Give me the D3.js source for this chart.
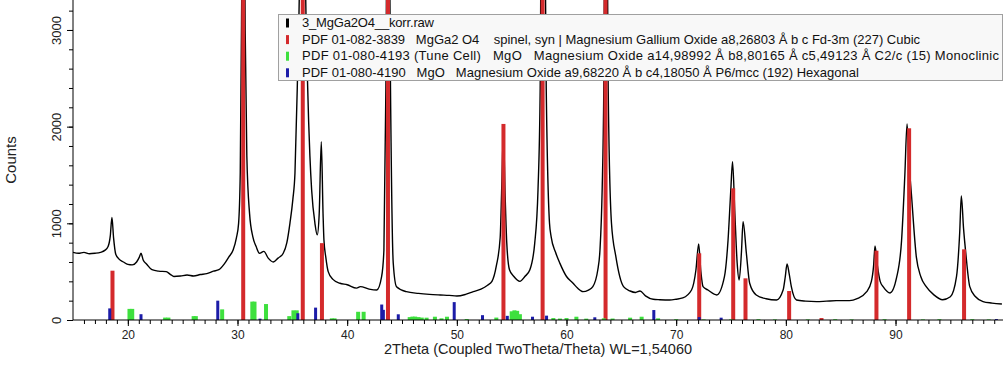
<!DOCTYPE html>
<html>
<head>
<meta charset="utf-8">
<script src="https://cdn.jsdelivr.net/npm/d3@7/dist/d3.min.js"></script>
<style>
  body { margin: 0; background: #fff; }
  svg { display: block; font-family: "Liberation Sans", Arial, sans-serif; }
</style>
</head>
<body>
<div id="chart"></div>
<script>
// measured scan, [2theta, counts]
const scan = [
  [15.0,700],[15.5,690],[16.0,700],[16.5,685],[17.0,690],[17.5,700],[17.9,720],[18.2,760],[18.4,870],[18.55,1060],
  [18.7,850],[18.9,680],[19.2,630],[19.6,600],[20.0,575],[20.4,570],[20.8,600],[21.05,650],[21.2,690],[21.4,620],
  [21.7,580],[22.2,520],[22.8,505],[23.5,500],[23.9,470],[24.2,450],[24.8,455],[25.4,465],[26.0,455],[26.6,470],
  [27.2,480],[27.8,505],[28.3,520],[28.8,580],[29.2,650],[29.6,724],[29.9,850],[30.1,1000],[30.25,1520],[30.38,3300],
  [30.52,6000],[30.7,3000],[30.85,1700],[31.1,1100],[31.4,860],[31.7,760],[32.0,690],[32.4,710],[32.8,640],[33.26,600],
  [33.7,640],[34.17,690],[34.5,800],[34.78,1000],[35.05,1250],[35.24,1520],[35.45,2400],[35.7,4000],[35.95,9000],[36.15,4000],
  [36.4,2400],[36.6,1700],[36.76,1345],[37.06,1000],[37.27,880],[37.45,1100],[37.64,1845],[37.8,1100],[37.88,830],[38.05,650],
  [38.27,500],[38.7,420],[39.34,380],[40.0,365],[40.86,330],[41.2,345],[42.0,320],[42.7,310],[43.14,448],[43.35,724],
  [43.53,2400],[43.72,6000],[43.95,2400],[44.2,590],[44.5,345],[45.4,293],[46.5,275],[47.5,265],[48.5,259],[49.3,255],
  [50.0,248],[50.8,265],[51.5,293],[52.2,320],[52.8,360],[53.2,400],[53.6,560],[53.95,850],[54.1,1400],[54.25,1950],
  [54.4,1300],[54.55,800],[54.8,520],[55.2,450],[55.75,400],[56.2,450],[56.66,520],[57.1,793],[57.4,1345],[57.6,2400],
  [57.8,7000],[58.15,2400],[58.45,1000],[58.6,860],[59.0,700],[59.4,586],[60.0,450],[60.6,380],[61.0,330],[61.5,293],
  [62.0,310],[62.4,345],[62.85,517],[63.05,724],[63.25,1345],[63.4,2400],[63.58,6000],[63.8,2400],[64.1,1000],[64.5,655],
  [65.2,345],[65.8,300],[66.3,285],[66.7,300],[67.2,250],[67.9,214],[68.5,210],[69.4,207],[70.0,215],[70.6,228],
  [71.4,310],[71.8,517],[72.05,786],[72.25,500],[72.45,345],[72.9,310],[73.7,259],[74.4,448],[74.73,828],[74.98,1345],
  [75.14,1638],[75.35,1100],[75.56,590],[75.74,414],[75.95,700],[76.1,1017],[76.4,690],[76.7,380],[77.3,259],[78.2,220],
  [79.15,207],[79.75,310],[79.95,450],[80.11,580],[80.3,480],[80.5,345],[80.97,207],[81.8,195],[82.8,190],[83.7,195],
  [84.6,200],[85.8,200],[86.5,220],[87.35,290],[87.8,400],[88.0,560],[88.13,766],[88.35,560],[88.6,400],[88.9,340],
  [89.5,280],[90.1,440],[90.55,820],[90.85,1500],[91.05,2028],[91.25,1600],[91.45,1300],[91.9,650],[92.3,450],[92.8,345],
  [93.5,260],[94.3,210],[95.0,240],[95.56,448],[95.85,900],[96.0,1283],[96.2,950],[96.4,700],[96.77,345],[97.3,240],
  [97.98,190],[98.8,175],[99.7,165]
];

// reference patterns, [2theta, intensity]
const spinel = [
  [18.6,510],[30.52,3600],[35.95,3600],[37.7,795],[43.72,3600],[54.25,2028],[57.82,3600],[63.56,3600],
  [72.1,690],[75.2,1362],[76.32,431],[80.3,300],[83.25,20],[88.26,717],[91.24,1983],[96.25,731]
];
const mgoMono = [
  [20.15,115],[20.4,115],[23.4,25],[23.7,25],[26.0,40],[26.2,40],[28.6,110],[31.35,190],[31.55,190],[32.6,165],
  [34.72,40],[35.1,100],[35.4,100],[38.6,17],[38.85,17],[41.0,85],[41.5,85],[45.7,30],[45.95,35],[46.2,35],
  [46.5,30],[46.8,25],[47.24,24],[48.0,34],[48.6,17],[49.1,34],[50.9,10],[53.6,25],[55.0,90],[55.25,100],
  [55.5,95],[55.75,60],[58.8,20],[59.4,15],[60.0,20],[60.9,34],[61.8,14],[63.4,17],[64.2,15],[65.8,24],
  [66.85,34],[68.35,17],[70.0,8],[72.5,6],[75.0,6],[77.5,8],[79.0,6],[82.0,6],[84.5,8],[86.0,6],
  [89.0,8],[92.5,6],[94.0,8],[97.0,8],[98.5,6]
];
const mgoHex = [
  [18.35,120],[21.2,60],[28.2,200],[32.05,14],[35.5,70],[37.12,128],[43.15,160],[43.3,105],[44.66,59],[49.76,185],
  [52.34,50],[54.6,43],[56.9,34],[58.18,45],[62.58,28],[67.96,103],[72.1,30],[74.1,24],[99.2,10]
];

const xTicks = [20, 30, 40, 50, 60, 70, 80, 90];
const yTicks = [0, 1000, 2000, 3000];

const legendLabels = [
  "3_MgGa2O4__korr.raw",
  "PDF 01-082-3839   MgGa2 O4    spinel, syn | Magnesium Gallium Oxide a8,26803 Å b c Fd-3m (227) Cubic",
  "PDF 01-080-4193 (Tune Cell)   MgO   Magnesium Oxide a14,98992 Å b8,80165 Å c5,49123 Å C2/c (15) Monoclinic",
  "PDF 01-080-4190   MgO   Magnesium Oxide a9,68220 Å b c4,18050 Å P6/mcc (192) Hexagonal"
];
const legendWidths = [132, 618, 697, 557];
const colors = ["#000000", "#d42a2c", "#3ee03e", "#1c1ca8"];

const width = 1005, height = 370;
const margin = { top: 0, right: 2, bottom: 50, left: 73 };

const svg = d3.select("#chart").append("svg")
  .attr("width", width)
  .attr("height", height);

const x = d3.scaleLinear().domain([15, 99.8]).range([margin.left, width - margin.right]);
const y = d3.scaleLinear().domain([0, 3310]).range([height - margin.bottom, margin.top]);

svg.append("clipPath").attr("id", "plot")
  .append("rect")
  .attr("x", margin.left).attr("y", margin.top)
  .attr("width", width - margin.right - margin.left)
  .attr("height", height - margin.bottom - margin.top);

const plot = svg.append("g").attr("clip-path", "url(#plot)");

// scan
plot.append("path")
  .datum(scan)
  .attr("fill", "none")
  .attr("stroke", "#000")
  .attr("stroke-width", 1.4)
  .attr("stroke-linejoin", "round")
  .attr("d", d3.line().x(d => x(d[0])).y(d => y(d[1])).curve(d3.curveMonotoneX));

function sticks(data, color, w) {
  plot.append("g").selectAll("rect")
    .data(data)
    .enter()
    .append("rect")
    .attr("x", d => x(d[0]) - w / 2)
    .attr("y", d => y(d[1]))
    .attr("width", w)
    .attr("height", d => y(0) - y(d[1]))
    .attr("fill", color);
}
sticks(spinel, colors[1], 4);
sticks(mgoMono, colors[2], 4);
sticks(mgoHex, colors[3], 3);

// axes
const xAxis = svg.append("g")
  .attr("transform", `translate(0,${y(0)})`)
  .call(d3.axisBottom(x).tickValues(d3.range(16, 100, 1)).tickSize(4).tickFormat(""));
xAxis.select(".domain").attr("d", `M${margin.left},0H${width - margin.right}`);
svg.append("g")
  .attr("transform", `translate(0,${y(0)})`)
  .call(d3.axisBottom(x).tickValues(xTicks).tickSize(6).tickPadding(4))
  .call(g => g.select(".domain").remove())
  .selectAll("text")
  .attr("font-size", 12)
  .attr("font-family", "Liberation Sans, Arial, sans-serif")
  .attr("fill", "#222");

const yAxis = svg.append("g")
  .attr("transform", `translate(${margin.left},0)`)
  .call(d3.axisLeft(y).tickValues(d3.range(200, 3400, 200)).tickSize(4).tickFormat(""));
yAxis.select(".domain").attr("d", `M0,${margin.top}V${y(0)}`);
const yMajor = svg.append("g")
  .attr("transform", `translate(${margin.left},0)`)
  .call(d3.axisLeft(y).tickValues(yTicks).tickSize(6).tickFormat(d3.format("d")))
  .call(g => g.select(".domain").remove());
yMajor.selectAll("text")
  .attr("font-size", 13)
  .attr("font-family", "Liberation Sans, Arial, sans-serif")
  .attr("fill", "#222")
  .attr("text-anchor", "middle")
  .attr("dy", null)
  .attr("x", null)
  .attr("transform", "translate(-15,0) rotate(-90)")
  .attr("dominant-baseline", "middle");

svg.append("text")
  .attr("x", (margin.left + width - margin.right) / 2)
  .attr("y", 354)
  .attr("text-anchor", "middle")
  .attr("font-size", 14.5)
  .attr("fill", "#222")
  .text("2Theta (Coupled TwoTheta/Theta) WL=1,54060");

svg.append("text")
  .attr("transform", `translate(16,160) rotate(-90)`)
  .attr("text-anchor", "middle")
  .attr("font-size", 15)
  .attr("fill", "#222")
  .text("Counts");

// legend
const legend = svg.append("g");
legend.append("rect")
  .attr("x", 278.5).attr("y", 14.5)
  .attr("width", 724).attr("height", 66)
  .attr("fill", "#f8f8f8")
  .attr("stroke", "#a0a0a0");
legendLabels.forEach((label, i) => {
  const cy = 22.5 + i * 16.6;
  legend.append("rect")
    .attr("x", 286).attr("y", cy - 4)
    .attr("width", 3).attr("height", 9)
    .attr("fill", colors[i]);
  legend.append("text")
    .attr("x", 302).attr("y", cy + 4.5)
    .attr("font-size", 13)
    .attr("fill", "#111")
    .attr("textLength", legendWidths[i])
    .attr("lengthAdjust", "spacing")
    .style("white-space", "pre")
    .text(label);
});
</script>
</body>
</html>
